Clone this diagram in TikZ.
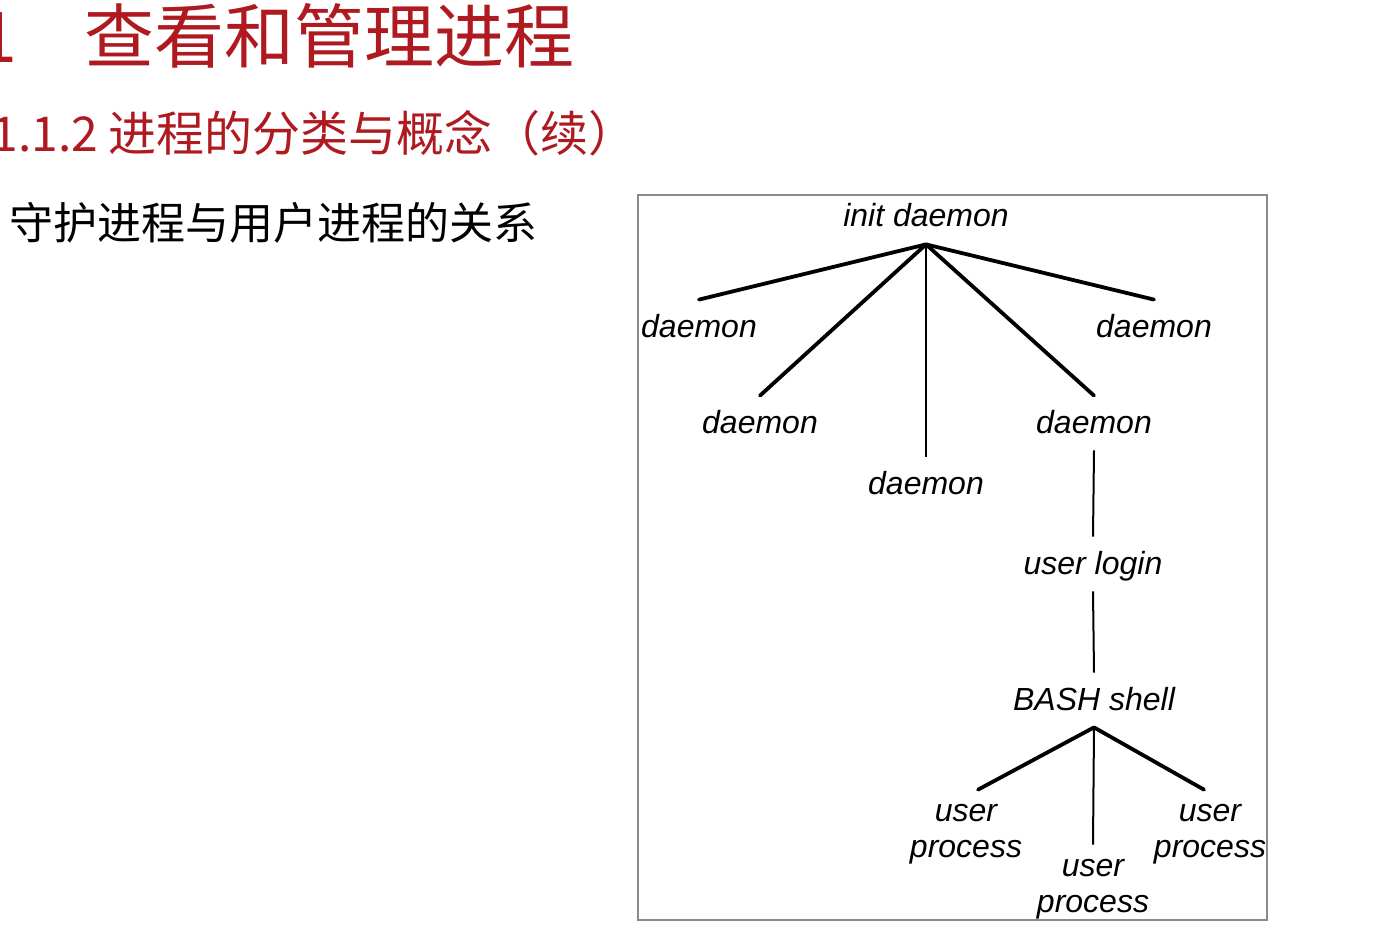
\documentclass[tikz,border=0pt]{standalone}
\usepackage{fontspec}
\setmainfont{Liberation Sans}
\newfontfamily\cjk{Noto Sans CJK SC}
\usetikzlibrary{positioning}
\definecolor{titlec}{HTML}{AE1A20}
\definecolor{framec}{HTML}{8A8A8A}
\tikzset{
  head/.style={font=\cjk\fontsize{35}{40}\selectfont,text=titlec,inner sep=0pt},
  subhead/.style={font=\cjk\fontsize{24}{28}\selectfont,text=titlec,anchor=base west,inner sep=0pt},
  item/.style={font=\cjk\fontsize{22}{26}\selectfont,anchor=base west,inner sep=0pt},
  proc/.style={font=\itshape\fontsize{16}{18}\selectfont,inner sep=5.5pt,text height=13pt,text depth=3pt},
  pproc/.style={font=\itshape\fontsize{16}{18}\selectfont,align=center,inner sep=7pt},
  br/.style={line width=1.9pt,line cap=round},
  tr/.style={line width=1pt},
  frame/.style={draw=framec,line width=0.7pt},
}
\begin{document}
\begin{tikzpicture}[x=0.5pt,y=-0.5pt]
  \useasboundingbox (0,0) rectangle (1398,925);
  % headings
  \node[head,anchor=base east] (num) at (18,63) {1};
  \node[head,anchor=base west] (title) at (84,63) {查看和管理进程};
  \node[subhead] (sub) at (-9,152) {1.1.2 进程的分类与概念（续）};
  \node[item] (topic) at (9,240) {守护进程与用户进程的关系};
  % process tree
  \draw[frame] (638,195) rectangle (1267,920);
  \node[proc] (init) at (926,217) {init daemon};
  \node[proc] (d1) at (699,327) {daemon};
  \node[proc] (d2) at (760,423) {daemon};
  \node[proc] (d3) at (926,484) {daemon};
  \node[proc] (d4) at (1094,423) {daemon};
  \node[proc] (d5) at (1154,327) {daemon};
  \node[proc] (login) at (1093,564) {user login};
  \node[proc] (bash) at (1094,700) {BASH shell};
  \node[pproc] (u1) at (966,834) {user\\process};
  \node[pproc] (u2) at (1093,889) {user\\process};
  \node[pproc] (u3) at (1210,834) {user\\process};
  \foreach \s in {d1,d2,d4,d5} \draw[br] (init.south) -- (\s.north);
  \draw[tr] (init.south) -- (d3.north);
  \draw[tr] (d4.south) -- (login.north);
  \draw[tr] (login.south) -- (bash.north);
  \draw[br] (bash.south) -- ([xshift=6pt]u1.north);
  \draw[br] (bash.south) -- ([xshift=-3pt]u3.north);
  \draw[tr] (bash.south) -- (u2.north);
\end{tikzpicture}
\end{document}
